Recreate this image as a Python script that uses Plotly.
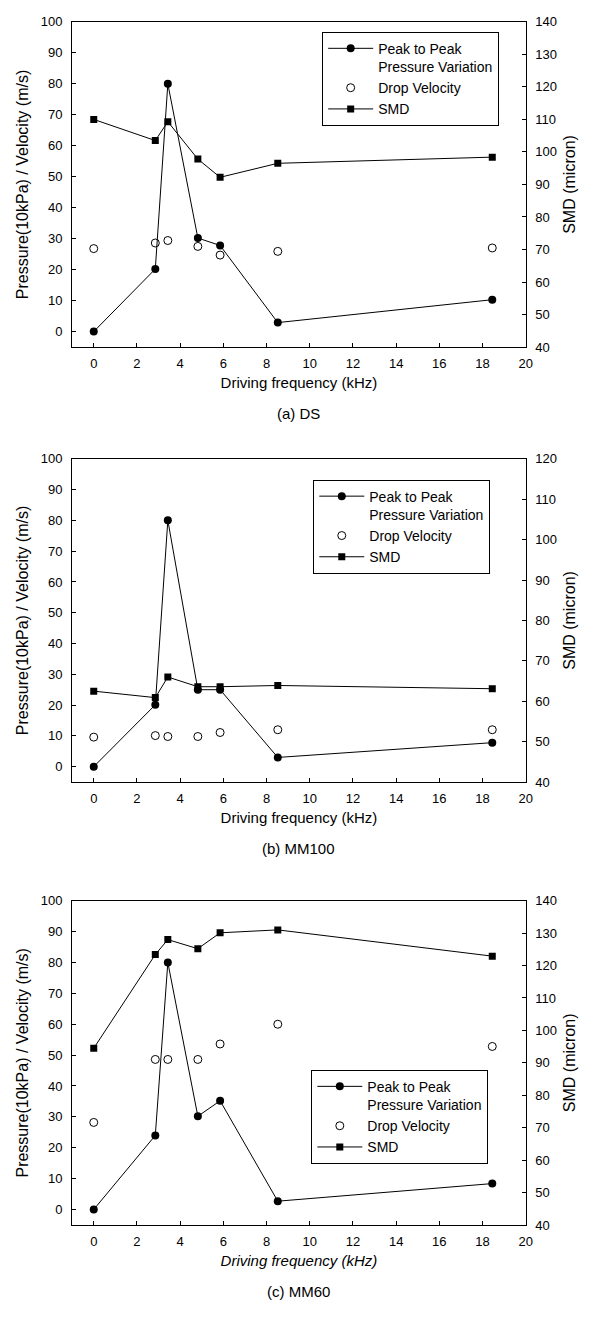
import plotly.graph_objects as go

# Driving frequencies (kHz) shared by all three nozzles
freq = [0, 2.85, 3.43, 4.82, 5.85, 8.52, 18.45]

# (a) DS
pressure_ds = [0, 20.2, 80, 30.2, 27.8, 2.9, 10.3]
velocity_ds = [26.8, 28.6, 29.4, 27.5, 24.7, 25.9, 27.0]
smd_ds = [110.0, 103.5, 109.3, 97.8, 92.2, 96.5, 98.4]

# (b) MM100
pressure_mm100 = [0, 20.1, 80, 25.0, 25.0, 3.0, 7.8]
velocity_mm100 = [9.6, 10.1, 9.8, 9.8, 11.1, 12.0, 12.0]
smd_mm100 = [62.5, 60.9, 66.0, 63.6, 63.6, 63.9, 63.1]

# (c) MM60
pressure_mm60 = [0, 24.0, 80, 30.2, 35.2, 2.7, 8.4]
velocity_mm60 = [28.2, 48.6, 48.6, 48.6, 53.6, 60.0, 52.8]
smd_mm60 = [94.5, 123.4, 128.0, 125.2, 130.1, 131.0, 122.9]

panel_labels = ["(a) DS", "(b) MM100", "(c) MM60"]
smd_ranges = [[40, 140], [40, 120], [40, 140]]
x_ticks = list(range(0, 21, 2))
left_ticks = list(range(0, 101, 10))

# ---- layout geometry (pixels) ----
W, H = 596, 1317
X0, X1 = 73, 532
panel_rows = [(15, 344), (457, 784), (904, 1232)]
legend_boxes = [(326, 25), (317, 478), (315, 1075)]
FONT = "Liberation Sans, Arial, Helvetica, sans-serif"

data = [
    (pressure_ds, velocity_ds, smd_ds),
    (pressure_mm100, velocity_mm100, smd_mm100),
    (pressure_mm60, velocity_mm60, smd_mm60),
]

fig = go.Figure()
layout = dict(
    width=W, height=H,
    margin=dict(l=0, r=0, t=0, b=0),
    paper_bgcolor="white", plot_bgcolor="white",
    font=dict(family=FONT, color="black", size=13),
    showlegend=True,
    annotations=[],
)

for i, (pres, vel, smd) in enumerate(data):
    n = i + 1
    xname = "x" if n == 1 else f"x{n}"
    yl = 2 * i + 1
    yr = 2 * i + 2
    yl_name = "y" if yl == 1 else f"y{yl}"
    yr_name = f"y{yr}"
    leg = "legend" if n == 1 else f"legend{n}"

    fig.add_trace(go.Scatter(
        x=freq, y=pres, name="Peak to Peak<br>Pressure Variation",
        mode="lines+markers", xaxis=xname, yaxis=yl_name, legend=leg,
        line=dict(color="black", width=1),
        marker=dict(symbol="circle", size=8, color="black"),
    ))
    fig.add_trace(go.Scatter(
        x=freq, y=vel, name="Drop Velocity",
        mode="markers", xaxis=xname, yaxis=yl_name, legend=leg,
        marker=dict(symbol="circle-open", size=8, color="black",
                    line=dict(width=1, color="black")),
    ))
    fig.add_trace(go.Scatter(
        x=freq, y=smd, name="SMD",
        mode="lines+markers", xaxis=xname, yaxis=yr_name, legend=leg,
        line=dict(color="black", width=1),
        marker=dict(symbol="square", size=7, color="black"),
    ))

    top, bot = panel_rows[i]
    ydom = [1 - bot / H, 1 - top / H]
    italic = (n == 3)

    layout["xaxis" if n == 1 else f"xaxis{n}"] = dict(
        domain=[X0 / W, X1 / W], anchor=yl_name, range=[-1, 20],
        tickmode="array", tickvals=x_ticks, ticks="inside", ticklen=4,
        tickcolor="black", showline=True, linecolor="black", linewidth=1,
        mirror=True, showgrid=False, zeroline=False,
        tickfont=dict(size=13), ticklabelstandoff=4,
        title=dict(
            text="<i>Driving frequency (kHz)</i>" if italic else "Driving frequency (kHz)",
            font=dict(size=15), standoff=7),
    )
    layout["yaxis" if yl == 1 else f"yaxis{yl}"] = dict(
        domain=ydom, anchor=xname, range=[-5, 100],
        tickmode="array", tickvals=left_ticks, ticks="inside", ticklen=4,
        tickcolor="black", showline=True, linecolor="black", linewidth=1,
        showgrid=False, zeroline=False, tickfont=dict(size=13),
        ticklabelstandoff=6,
        title=dict(text="Pressure(10kPa) / Velocity (m/s)",
                   font=dict(size=16), standoff=8),
    )
    lo, hi = smd_ranges[i]
    layout[f"yaxis{yr}"] = dict(
        domain=ydom, anchor=xname, overlaying=yl_name, side="right",
        range=[lo, hi], tickmode="array", tickvals=list(range(lo, hi + 1, 10)),
        ticks="inside", ticklen=4, tickcolor="black",
        showline=True, linecolor="black", linewidth=1,
        showgrid=False, zeroline=False, tickfont=dict(size=13),
        ticklabelstandoff=6,
        title=dict(text="SMD (micron)", font=dict(size=16), standoff=7),
    )

    lx, ly = legend_boxes[i]
    layout[leg] = dict(
        x=lx / W, y=1 - ly / H, xanchor="left", yanchor="top",
        xref="paper", yref="paper",
        bgcolor="white", bordercolor="black", borderwidth=1,
        font=dict(size=14), tracegroupgap=0, valign="top",
        itemwidth=45,
    )

    layout["annotations"].append(dict(
        text=panel_labels[i], xref="paper", yref="paper",
        x=(X0 + X1) / 2 / W, y=1 - (bot + 67) / H,
        xanchor="center", yanchor="middle", showarrow=False,
        font=dict(size=15),
    ))

fig.update_layout(**layout)
fig.write_html("out.html")
